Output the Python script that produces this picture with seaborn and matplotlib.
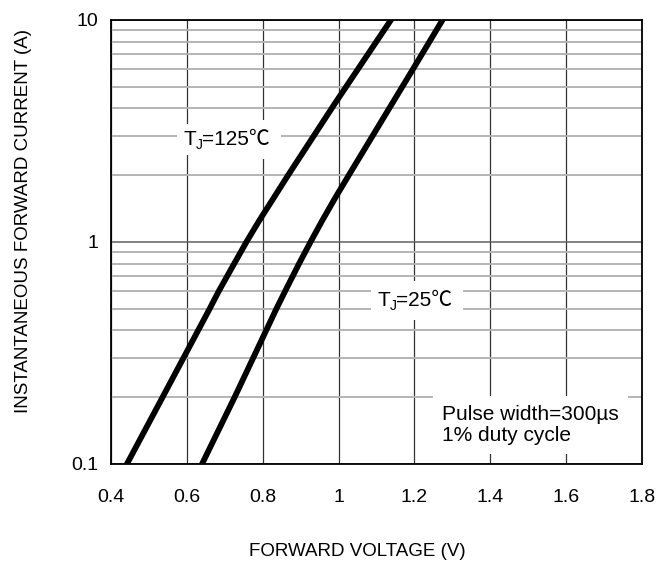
import numpy as np
import pandas as pd
import matplotlib
matplotlib.use("Agg")
import matplotlib.pyplot as plt
import seaborn as sns

# ---- data ----
v_125 = [0.442, 0.536, 0.660, 0.684, 0.725, 0.757, 0.791, 0.831, 0.867, 0.990, 1.138]
i_125 = [0.1, 0.2, 0.5, 0.6, 0.8, 1.0, 1.25, 1.6, 2.0, 4.2, 10.0]
v_25 = [0.640, 0.726, 0.836, 0.859, 0.896, 0.926, 0.957, 0.993, 1.027, 1.201, 1.274]
i_25 = [0.1, 0.2, 0.5, 0.6, 0.8, 1.0, 1.25, 1.6, 2.0, 6.2, 10.0]
series_names = ["125", "25"]
x_ticks = [0.4, 0.6, 0.8, 1.0, 1.2, 1.4, 1.6, 1.8]
x_ticklabels = ["0.4", "0.6", "0.8", "1", "1.2", "1.4", "1.6", "1.8"]
y_ticks = [0.1, 1, 10]
y_ticklabels = ["0.1", "1", "10"]

df = pd.concat([
    pd.DataFrame({"V": v_125, "I": i_125, "T": series_names[0]}),
    pd.DataFrame({"V": v_25, "I": i_25, "T": series_names[1]}),
])

sns.set_theme(style="white")
plt.rcParams["font.family"] = ["Liberation Sans", "Noto Sans CJK SC", "DejaVu Sans"]

fig = plt.figure(figsize=(6.71, 5.65), dpi=100)
ax = fig.add_axes([111 / 671, 1 - 464 / 565, 531 / 671, 444 / 565])

sns.lineplot(data=df, x="V", y="I", hue="T", estimator=None, sort=False,
             palette=["black", "black"], linewidth=4.2, legend=False, ax=ax, zorder=5)

ax.set_yscale("log")
ax.set_xlim(0.4, 1.8)
ax.set_ylim(0.1, 10)

ax.set_xticks(x_ticks)
ax.set_xticklabels(x_ticklabels, fontsize=14)
ax.set_yticks(y_ticks)
ax.set_yticklabels(y_ticklabels, fontsize=14)
minor = [m * d for d in (0.1, 1.0) for m in range(2, 10)]
ax.set_yticks(minor, minor=True)
ax.yaxis.set_minor_formatter(matplotlib.ticker.NullFormatter())

ax.tick_params(axis="x", which="major", direction="in", length=5, width=1,
               color="black", pad=18, labelcolor="black")
ax.tick_params(axis="y", which="major", direction="in", length=5, width=1,
               color="black", pad=9, labelcolor="black")
ax.tick_params(axis="y", which="minor", length=0)

ax.grid(which="major", axis="x", color="#333333", linewidth=0.9, zorder=0)
ax.grid(which="minor", axis="y", color="#b4b4b4", linewidth=1.4, zorder=0)
ax.grid(which="major", axis="y", color="#606060", linewidth=1.1, zorder=0)
ax.set_axisbelow(True)

for s in ax.spines.values():
    s.set_color("black")
    s.set_linewidth(1.3)
    s.set_zorder(6)

ax.set_xlabel("")
ax.set_ylabel("")
fig.text(357 / 671, 1 - 551 / 565, "FORWARD VOLTAGE (V)", fontsize=13.5,
         ha="center", va="center", color="black")
fig.text(24 / 671, 1 - 221 / 565, "INSTANTANEOUS FORWARD CURRENT (A)", fontsize=13.5,
         ha="center", va="center", rotation=90, color="black")


def axfrac(xp, yp):
    return ((xp - 111) / 531, (464 - yp) / 444)


def tj_label(xp, yp, rest):
    box_t = dict(boxstyle="square,pad=0.30", facecolor="white", edgecolor="none")
    box_e = dict(boxstyle="square,pad=0.50", facecolor="white", edgecolor="none")
    tT = ax.text(*axfrac(xp, yp), "T", transform=ax.transAxes, fontsize=15,
                 ha="left", va="baseline", bbox=box_t, zorder=3.5, color="black")
    tJ = ax.annotate("J", xy=(1, 0), xycoords=tT, xytext=(-0.3, 0.2),
                     textcoords="offset points", fontsize=10, ha="left",
                     va="baseline", zorder=4, color="black")
    tE = ax.annotate(rest, xy=(1, 0), xycoords=(tJ, tT), xytext=(0.2, 0),
                     textcoords="offset points", fontsize=15, ha="left",
                     va="bottom", zorder=3, color="black", bbox=box_e)
    return tT, tJ, tE


tj_label(183, 145, "=125\u2103")
tj_label(377, 306, "=25\u2103")

ax.text(*axfrac(442, 425), "Pulse width=300\u00b5s\n1% duty cycle", transform=ax.transAxes,
        fontsize=15, ha="left", va="center", linespacing=1.1,
        bbox=dict(boxstyle="square,pad=0.45", facecolor="white", edgecolor="none"),
        zorder=3, color="black")

fig.savefig("out.png", dpi=100)
